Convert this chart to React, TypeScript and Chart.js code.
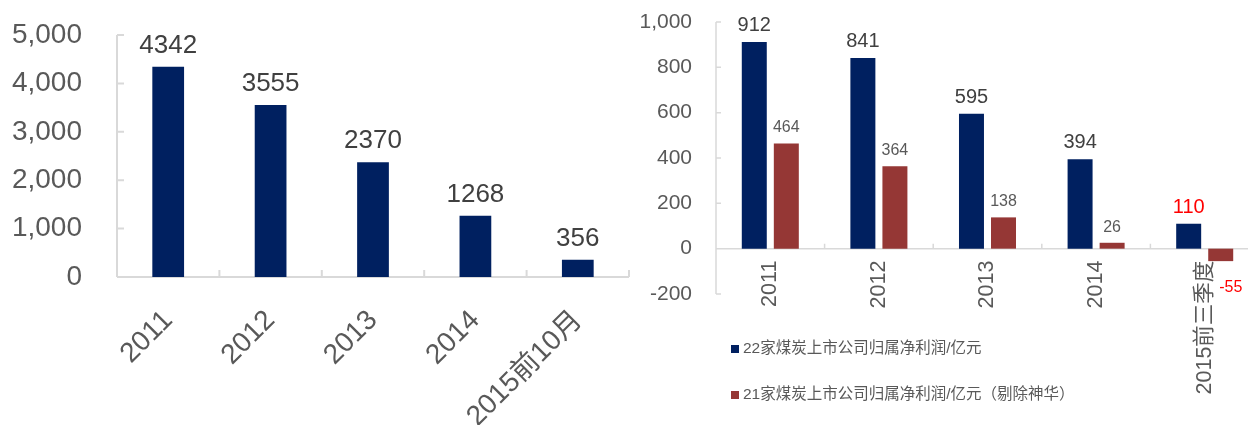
import React, { useEffect, useRef } from "react";
import { Chart, registerables } from "chart.js";

Chart.register(...registerables);

const FONT = "'Liberation Sans', Arial, 'Noto Sans CJK SC', sans-serif";

// ---- Left chart data ----
const leftCategories = ["2011", "2012", "2013", "2014", "2015前10月"];
const leftValues = [4342, 3555, 2370, 1268, 356];
const leftYMin = 0;
const leftYMax = 5000;
const leftYStep = 1000;

// ---- Right chart data ----
const rightCategories = ["2011", "2012", "2013", "2014", "2015前三季度"];
const series22Label = "22家煤炭上市公司归属净利润/亿元";
const series22 = [912, 841, 595, 394, 110];
const series21Label = "21家煤炭上市公司归属净利润/亿元（剔除神华）";
const series21 = [464, 364, 138, 26, -55];
const rightYMin = -200;
const rightYMax = 1000;
const rightYStep = 200;

const NAVY = "#002060";
const DARKRED = "#953735";
const AXIS = "#d9d9d9";
const TEXT = "#595959";

function axesPlugin(tickLen: number, lineWidth: number) {
  return {
    id: "innerAxes",
    beforeDatasetsDraw(chart: any) {
      const { ctx } = chart;
      const xs = chart.scales.x;
      const ys = chart.scales.y;
      const y0 = ys.getPixelForValue(0);
      const yAxisX = ys.right;
      ctx.save();
      ctx.strokeStyle = AXIS;
      ctx.lineWidth = lineWidth;
      ctx.beginPath();
      ctx.moveTo(yAxisX, ys.top);
      ctx.lineTo(yAxisX, ys.bottom);
      ys.ticks.forEach((t: any) => {
        const py = ys.getPixelForValue(t.value);
        ctx.moveTo(yAxisX, py);
        ctx.lineTo(yAxisX + tickLen, py);
      });
      ctx.moveTo(xs.left, y0);
      ctx.lineTo(xs.right, y0);
      const n = chart.data.labels.length;
      for (let i = 0; i <= n; i++) {
        const px = xs.getPixelForValue(i - 0.5);
        ctx.moveTo(px, y0);
        ctx.lineTo(px, y0 - tickLen);
      }
      ctx.stroke();
      ctx.restore();
    },
  };
}

type LabelStyle = { size: number; color: string; gapUp: number; gapDown: number; dxDown: number };

function valueLabelsPlugin(styleFor: (di: number, i: number, v: number) => LabelStyle) {
  return {
    id: "valueLabels",
    afterDatasetsDraw(chart: any) {
      const { ctx } = chart;
      ctx.save();
      chart.data.datasets.forEach((ds: any, di: number) => {
        const meta = chart.getDatasetMeta(di);
        meta.data.forEach((bar: any, i: number) => {
          const v = ds.data[i] as number;
          const s = styleFor(di, i, v);
          ctx.font = `${s.size}px ${FONT}`;
          ctx.fillStyle = s.color;
          ctx.textAlign = "center";
          if (v >= 0) {
            ctx.textBaseline = "alphabetic";
            ctx.fillText(String(v), bar.x, bar.y - s.gapUp);
          } else {
            ctx.textBaseline = "middle";
            ctx.fillText(String(v), bar.x + s.dxDown, bar.y + s.gapDown);
          }
        });
      });
      ctx.restore();
    },
  };
}

const legendPlugin = {
  id: "stackedLegend",
  afterDraw(chart: any) {
    const { ctx } = chart;
    const x = 101;
    const rows = [349, 395];
    ctx.save();
    chart.data.datasets.forEach((ds: any, di: number) => {
      const cy = rows[di];
      ctx.fillStyle = ds.backgroundColor;
      ctx.fillRect(x, cy - 4, 8, 8);
      ctx.font = `15.5px ${FONT}`;
      ctx.fillStyle = TEXT;
      ctx.textAlign = "left";
      ctx.textBaseline = "middle";
      ctx.fillText(ds.label, x + 12, cy);
    });
    ctx.restore();
  },
};

function LeftChart() {
  const ref = useRef<HTMLCanvasElement>(null);
  useEffect(() => {
    if (!ref.current) return;
    const chart = new Chart(ref.current, {
      type: "bar",
      data: {
        labels: leftCategories,
        datasets: [
          {
            label: "left",
            data: leftValues,
            backgroundColor: NAVY,
            barPercentage: 0.31,
            categoryPercentage: 1,
          },
        ],
      },
      options: {
        responsive: false,
        animation: false,
        layout: { padding: { top: 35, right: 1, left: 0, bottom: 0 } },
        plugins: { legend: { display: false }, tooltip: { enabled: false } },
        scales: {
          x: {
            type: "category",
            offset: true,
            grid: { display: false, drawTicks: false },
            border: { display: false },
            ticks: {
              autoSkip: false,
              minRotation: 45,
              maxRotation: 45,
              padding: 27,
              color: TEXT,
              font: { size: 28, family: FONT },
            },
            afterFit: (s: any) => {
              s.height = 148;
              s.paddingLeft = 0;
              s.paddingRight = 0;
            },
          },
          y: {
            min: leftYMin,
            max: leftYMax,
            grid: { display: false, drawTicks: false },
            border: { display: false },
            ticks: {
              stepSize: leftYStep,
              padding: 35,
              color: TEXT,
              font: { size: 28, family: FONT },
            },
            afterFit: (s: any) => {
              s.width = 117;
              s.paddingTop = 0;
              s.paddingBottom = 0;
            },
          },
        },
      },
      plugins: [
        axesPlugin(7, 2),
        valueLabelsPlugin(() => ({ size: 26, color: "#404040", gapUp: 14, gapDown: 20, dxDown: 0 })),
      ],
    } as any);
    return () => chart.destroy();
  }, []);
  return <canvas ref={ref} width={630} height={425} style={{ width: 630, height: 425 }} />;
}

function RightChart() {
  const ref = useRef<HTMLCanvasElement>(null);
  useEffect(() => {
    if (!ref.current) return;
    const chart = new Chart(ref.current, {
      type: "bar",
      data: {
        labels: rightCategories,
        datasets: [
          {
            label: series22Label,
            data: series22,
            backgroundColor: NAVY,
            barPercentage: 0.78,
            categoryPercentage: 0.59,
          },
          {
            label: series21Label,
            data: series21,
            backgroundColor: DARKRED,
            barPercentage: 0.78,
            categoryPercentage: 0.59,
          },
        ],
      },
      options: {
        responsive: false,
        animation: false,
        layout: { padding: { top: 22, right: 11, left: 0, bottom: 131 } },
        plugins: { legend: { display: false }, tooltip: { enabled: false } },
        scales: {
          x: {
            type: "category",
            offset: true,
            position: { y: 0 },
            grid: { display: false, drawTicks: false },
            border: { display: false },
            ticks: {
              autoSkip: false,
              minRotation: 90,
              maxRotation: 90,
              padding: 12,
              color: TEXT,
              font: { size: 21.5, family: FONT },
            },
            afterFit: (s: any) => {
              s.paddingLeft = 0;
              s.paddingRight = 0;
            },
          },
          y: {
            min: rightYMin,
            max: rightYMax,
            grid: { display: false, drawTicks: false },
            border: { display: false },
            ticks: {
              stepSize: rightYStep,
              padding: 24,
              color: TEXT,
              font: { size: 21, family: FONT },
            },
            afterFit: (s: any) => {
              s.width = 86;
              s.paddingTop = 0;
              s.paddingBottom = 0;
            },
          },
        },
      },
      plugins: [
        axesPlugin(5, 1.5),
        valueLabelsPlugin((di, i) => {
          const last = i === rightCategories.length - 1;
          if (di === 0) return { size: 20, color: last ? "#ff0000" : "#404040", gapUp: 11, gapDown: 26, dxDown: 10 };
          return { size: 16, color: last ? "#ff0000" : TEXT, gapUp: 11, gapDown: 26, dxDown: 10 };
        }),
        legendPlugin,
      ],
    } as any);
    return () => chart.destroy();
  }, []);
  return <canvas ref={ref} width={640} height={425} style={{ width: 640, height: 425 }} />;
}

export default function App() {
  return (
    <div
      style={{
        position: "absolute",
        left: 0,
        top: 0,
        width: 1248,
        height: 425,
        overflow: "hidden",
        background: "#ffffff",
      }}
    >
      <div style={{ position: "absolute", left: 0, top: 0, width: 630, height: 425 }}>
        <LeftChart />
      </div>
      <div style={{ position: "absolute", left: 630, top: 0, width: 618, height: 425, overflow: "hidden" }}>
        <RightChart />
      </div>
    </div>
  );
}
